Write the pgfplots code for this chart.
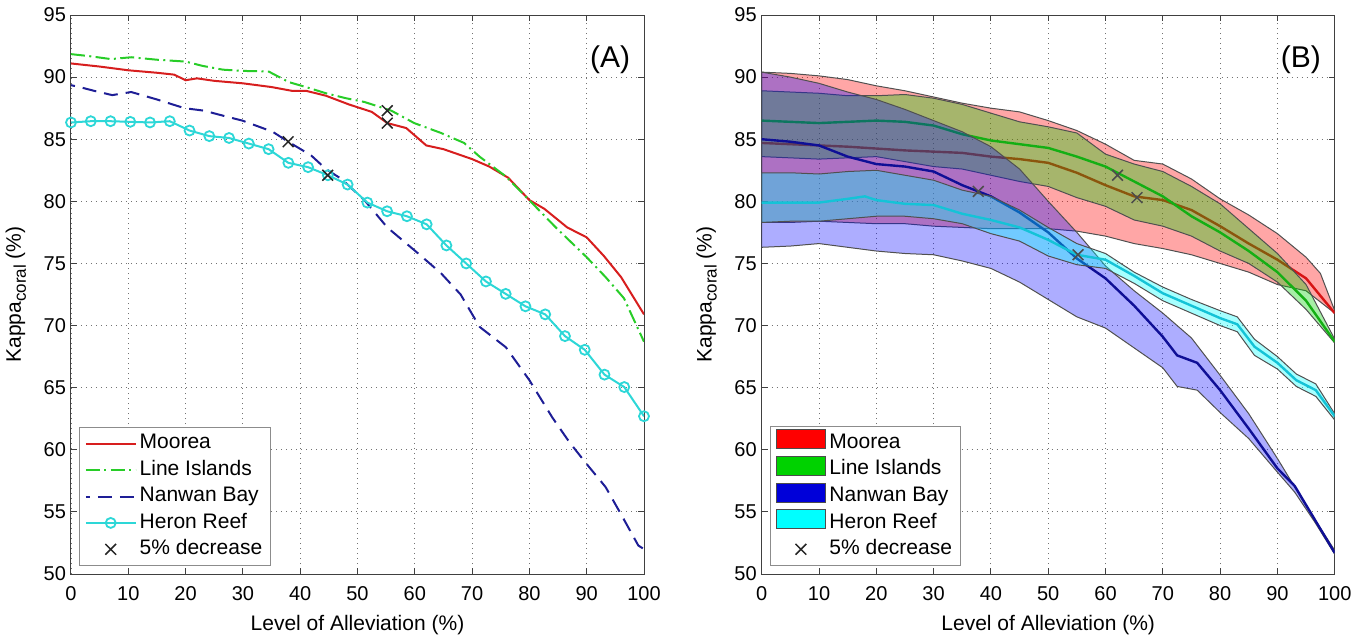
\documentclass[border=0pt]{standalone}
\usepackage{fontspec}
\setmainfont{Liberation Sans}
\usepackage{pgfplots}
\pgfplotsset{compat=1.18}

\definecolor{mooreaA}{RGB}{215,30,30}
\definecolor{lineA}{RGB}{40,205,40}
\definecolor{nanwanA}{RGB}{30,30,150}
\definecolor{heronA}{RGB}{45,215,215}
\definecolor{edge}{RGB}{80,80,80}
\definecolor{mooreaM}{RGB}{215,20,20}
\definecolor{lineM}{RGB}{20,175,20}
\definecolor{nanwanM}{RGB}{15,15,150}
\definecolor{heronM}{RGB}{20,195,215}
\definecolor{redF}{RGB}{255,0,0}
\definecolor{greenF}{RGB}{0,210,0}
\definecolor{blueF}{RGB}{0,0,255}
\definecolor{cyanF}{RGB}{0,255,255}

\pgfplotsset{
  kappa/.style={
    width=286.5pt, height=279.5pt, scale only axis,
    xmin=0, xmax=100, ymin=50, ymax=95,
    xtick={0,10,...,100}, ytick={50,55,...,95},
    grid=major,
    grid style={black!55, dash pattern=on 0.6pt off 1.9pt, line width=0.45pt},
    tick align=inside, tick pos=both, major tick length=3pt,
    axis line style={black!75, line width=0.5pt},
    every tick/.style={black!75, line width=0.5pt},
    tick label style={font=\fontsize{10}{12}\selectfont},
    xticklabel style={yshift=-2.5pt},
    yticklabel style={xshift=1pt},
    /pgf/number format/assume math mode=true,
    every axis x label/.style={at={(axis description cs:0.5,0)}, anchor=north, yshift=-17pt},
    every axis y label/.style={at={(axis description cs:-0.066,0.5)}, rotate=90, anchor=south},
    xlabel={Level of Alleviation (\%)},
    ylabel={Kappa\raisebox{-2.5pt}{\fontsize{8.5}{9}\selectfont coral} (\%)},
    label style={font=\fontsize{10.5}{12}\selectfont},
    legend style={at={(axis description cs:0.0147,0.0143)}, anchor=south west,
      draw=black!45, line width=0.5pt, fill=white,
      font=\fontsize{10.5}{12}\selectfont,
      inner xsep=2.5pt, inner ysep=1.5pt,
      nodes={inner sep=1.6pt, text height=7.6pt, text depth=2.4pt},
      cells={anchor=west}},
    legend image code/.code={\draw[mark repeat=2,mark phase=2,##1] plot coordinates {(0pt,0pt) (12.4pt,0pt) (24.8pt,0pt)};},
    clip mode=individual,
  },
  patch legend/.style={legend image code/.code={\draw[##1] (0pt,-3pt) rectangle (24.8pt,6.5pt);}},
}

\begin{document}
\begin{tikzpicture}
% ---------------- (A) ----------------
\begin{axis}[kappa, at={(0,0)}]
  \addplot[mooreaA, line width=1pt] coordinates {
    (0,91.1) (5,90.85) (10,90.55) (15,90.35) (18,90.2) (20,89.75) (22,89.9) (25,89.7)
    (30,89.5) (35,89.2) (38.5,88.9) (41,88.9) (44.5,88.5) (48.5,87.8) (52.5,87.2)
    (55.2,86.3) (58.5,85.9) (62,84.5) (65,84.2) (70,83.4) (73,82.8) (76.3,81.9)
    (80,80.1) (82.6,79.4) (86.6,77.9) (90,77.1) (93,75.6) (96,73.9) (100,70.9)};
  \addlegendentry{Moorea}
  \addplot[lineA, line width=1pt, dash pattern=on 7pt off 2.2pt on 1pt off 2.2pt] coordinates {
    (0,91.85) (3,91.7) (7,91.45) (10.5,91.6) (15,91.4) (20,91.25) (23,90.9) (26.5,90.6)
    (30,90.5) (34.5,90.45) (38,89.6) (41,89.2) (44.5,88.7) (48,88.3) (51.2,88.0)
    (55.9,87.3) (59.9,86.3) (64.6,85.5) (68.6,84.7) (71.3,83.6) (75.9,82.0) (80.6,79.8)
    (84.6,77.9) (90,75.5) (93.3,73.9) (96.5,72.2) (100,68.7)};
  \addlegendentry{Line Islands}
  \addplot[nanwanA, line width=1pt, dash pattern=on 7pt off 4pt, dash phase=5pt] coordinates {
    (0,89.35) (1.5,89.2) (4,88.9) (7.2,88.55) (10.5,88.8) (15,88.2) (19.8,87.5) (23.2,87.3)
    (26.5,86.9) (29.9,86.5) (35.2,85.6) (37.9,84.8) (41.9,83.7) (44.5,82.6) (47.2,81.8)
    (51.2,80.1) (55.2,77.9) (60.6,75.8) (64.6,74.2) (68,72.5) (71.3,69.9) (75.9,68.25)
    (80,65.6) (84,62.6) (87,60.6) (90,58.85) (93.3,57.0) (96,54.8) (99,52.3) (100,52)};
  \addlegendentry{Nanwan Bay}
  \addplot[heronA, line width=1pt, mark=o, mark size=2.5pt, mark options={solid, line width=0.9pt}] coordinates {
    (0,86.35) (3.448,86.45) (6.897,86.45) (10.345,86.4) (13.793,86.35) (17.241,86.45)
    (20.690,85.7) (24.138,85.25) (27.586,85.1) (31.034,84.65) (34.483,84.2) (37.931,83.1)
    (41.379,82.75) (44.828,82.1) (48.276,81.35) (51.724,79.9) (55.172,79.2) (58.621,78.8)
    (62.069,78.15) (65.517,76.45) (68.966,75.0) (72.414,73.55) (75.862,72.55) (79.310,71.55)
    (82.759,70.9) (86.207,69.15) (89.655,68.05) (93.103,66.05) (96.552,65.05) (100,62.7)};
  \addlegendentry{Heron Reef}
  \addplot[only marks, mark=x, mark size=3.8pt, mark options={black!85, line width=0.75pt}] coordinates {
    (55.2,87.3) (55.2,86.3) (37.9,84.8) (44.8,82.1)};
  \addlegendentry{5\% decrease}
  \node[anchor=east, font=\fontsize{15}{18}\selectfont] at (axis cs:98.8,91.4) {(A)};
\end{axis}

% ---------------- (B) ----------------
\begin{axis}[kappa, at={(345.35pt,0)}]
  % Moorea
  \addplot[fill=redF, fill opacity=0.35, draw=edge, line width=0.5pt, forget plot] coordinates {
    (0,90.4) (5,90.3) (10,90.1) (15,89.8) (20,89.3) (25,88.9) (30,88.4) (35,87.9) (40,87.5)
    (45,87.2) (50,86.5) (55,85.7) (60,84.6) (65,83.3) (70,83.0) (75,81.8) (80,80.2) (85,78.9)
    (90,77.4) (95,75.5) (97.5,74.2) (100,71.2)
    (100,71.0) (95,72.8) (90,73.3) (85,74.3) (80,75.0) (75,75.7) (70,76.2) (65,76.6) (60,77.2)
    (55,77.6) (50,77.8) (45,77.8) (40,77.8) (35,77.9) (30,78.0) (25,78.2) (20,78.2) (15,78.3)
    (10,78.4) (5,78.3) (0,78.3)} -- cycle;
  \addplot[mooreaM, line width=1.2pt, forget plot] coordinates {
    (0,84.7) (5,84.6) (10,84.5) (15,84.4) (20,84.25) (25,84.1) (30,84.0) (35,83.9) (40,83.6)
    (45,83.4) (50,83.1) (55,82.3) (60,81.3) (65,80.4) (70,80.1) (75,79.3) (80,78.0) (85,76.6)
    (90,75.3) (95,73.8) (100,71.0)};
  % Line Islands
  \addplot[fill=greenF, fill opacity=0.35, draw=edge, line width=0.5pt, forget plot] coordinates {
    (0,88.9) (5,88.8) (10,88.7) (15,88.5) (20,88.5) (25,88.6) (30,88.3) (35,87.8) (40,87.1)
    (45,86.4) (50,86.0) (55,85.5) (60,83.8) (65,83.0) (70,82.4) (75,81.2) (80,79.8) (85,77.8)
    (90,75.8) (95,73.3) (100,68.9)
    (100,68.6) (95,71.3) (90,73.5) (85,75.0) (80,76.0) (75,77.2) (70,78.0) (65,78.5) (60,79.6)
    (55,80.3) (50,81.2) (45,81.6) (40,82.1) (35,82.6) (30,82.8) (25,83.2) (20,83.6) (15,83.5)
    (10,83.4) (5,83.5) (0,83.6)} -- cycle;
  \addplot[lineM, line width=1.2pt, forget plot] coordinates {
    (0,86.5) (5,86.4) (10,86.3) (15,86.4) (20,86.5) (25,86.4) (30,86.1) (35,85.4) (40,84.9)
    (45,84.6) (50,84.3) (55,83.6) (60,82.8) (65,81.6) (70,80.4) (75,78.8) (80,77.5) (85,76.0)
    (90,74.3) (95,72.0) (100,68.7)};
  % Nanwan Bay
  \addplot[fill=blueF, fill opacity=0.32, draw=edge, line width=0.5pt, forget plot] coordinates {
    (0,90.4) (5,90.0) (10,89.5) (15,88.8) (20,88.2) (25,87.4) (30,86.5) (35,85.6) (40,84.4)
    (45,82.6) (50,80.0) (55,77.5) (60,74.8) (65,72.8) (70,71.0) (75,69.0) (80,66.0) (85,62.9)
    (90,59.3) (95,55.5) (100,51.9)
    (100,51.6) (96.5,54.2) (93,56.6) (90,58.2) (85,60.9) (80,63.0) (76,64.8) (72.5,65.1)
    (70,66.6) (65,68.2) (60,69.8) (55,70.7) (50,72.1) (45,73.5) (40,74.6) (35,75.2) (30,75.7)
    (25,75.8) (20,76.0) (15,76.3) (10,76.6) (5,76.4) (0,76.3)} -- cycle;
  \addplot[nanwanM, line width=1.2pt, forget plot] coordinates {
    (0,85.0) (5,84.8) (10,84.5) (15,83.6) (20,83.0) (25,82.8) (30,82.4) (35,81.3) (40,80.4)
    (45,79.1) (50,77.5) (55,75.4) (60,73.8) (65,71.6) (70,69.1) (72.5,67.6) (76,67.0) (80,64.8)
    (85,61.7) (90,58.5) (93,57.1) (96.5,54.4) (100,51.7)};
  % Heron Reef
  \addplot[fill=cyanF, fill opacity=0.35, draw=edge, line width=0.5pt, forget plot] coordinates {
    (0,82.3) (5,82.3) (10,82.2) (15,82.4) (20,82.5) (25,82.1) (30,81.7) (35,80.9) (40,80.4)
    (45,79.3) (50,77.9) (55,76.6) (60,75.8) (65,74.3) (70,73.1) (75,72.1) (80,71.2) (83,70.7)
    (86,68.9) (90,67.5) (93.3,66.1) (96.7,65.3) (100,62.9)
    (100,62.4) (96.7,64.3) (93.3,65.1) (90,66.5) (86,67.6) (83,69.5) (80,70.0) (75,71.0)
    (70,72.0) (65,73.4) (60,74.6) (55,74.9) (50,75.6) (45,76.8) (40,77.4) (35,78.2) (30,78.6)
    (25,78.8) (20,78.8) (15,78.6) (10,78.4) (5,78.4) (0,78.3)} -- cycle;
  \addplot[heronM, line width=1.2pt, forget plot] coordinates {
    (0,79.9) (5,79.9) (10,79.9) (15,80.2) (18,80.4) (20,80.1) (25,79.8) (30,79.7) (35,79.0)
    (40,78.5) (45,77.9) (50,76.9) (55,75.7) (60,75.3) (65,74.0) (70,72.6) (75,71.6) (80,70.6)
    (83,70.1) (86,68.3) (90,67.0) (93.3,65.6) (96.7,64.8) (100,62.7)};
  % 5% decrease
  \addplot[only marks, mark=x, mark size=3.8pt, mark options={black!70, line width=0.75pt}, forget plot] coordinates {
    (37.8,80.8) (55.2,75.7) (62.1,82.1) (65.5,80.3)};
  \addlegendimage{patch legend, fill=redF, draw=black!70}
  \addlegendentry{Moorea}
  \addlegendimage{patch legend, fill=greenF, draw=black!70}
  \addlegendentry{Line Islands}
  \addlegendimage{patch legend, fill=blueF!85!black, draw=black!70}
  \addlegendentry{Nanwan Bay}
  \addlegendimage{patch legend, fill=cyanF, draw=black!70}
  \addlegendentry{Heron Reef}
  \addlegendimage{only marks, mark=x, mark size=3.8pt, mark options={black!85, line width=0.75pt}}
  \addlegendentry{5\% decrease}
  \node[anchor=east, font=\fontsize{15}{18}\selectfont] at (axis cs:98.8,91.4) {(B)};
\end{axis}
\pgfresetboundingbox
\path (-35.5pt,-30pt) rectangle (644pt,287pt);
\end{tikzpicture}
\end{document}
